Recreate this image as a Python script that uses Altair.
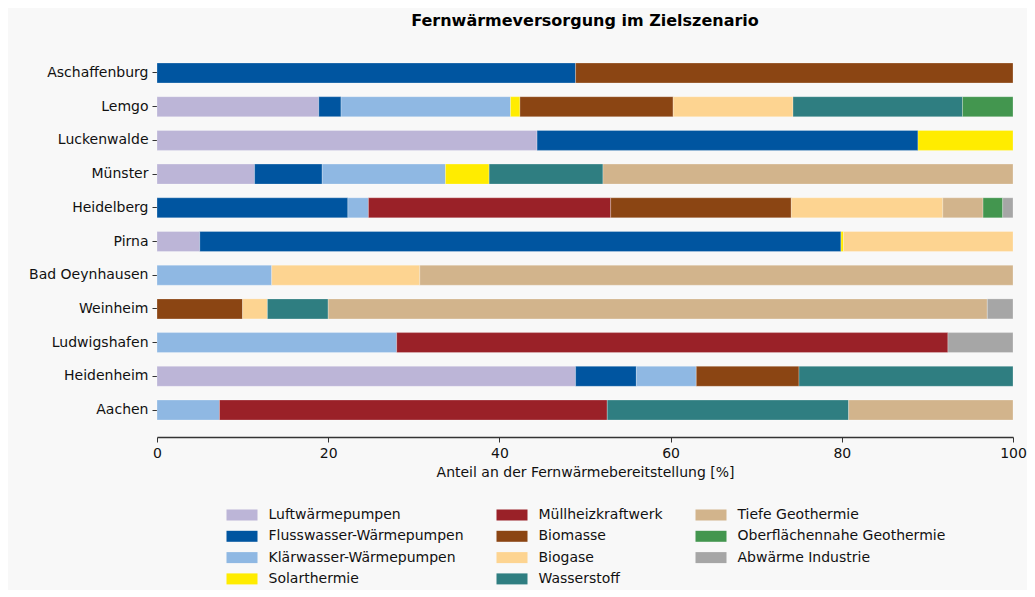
import altair as alt
import pandas as pd

cities = ["Aschaffenburg", "Lemgo", "Luckenwalde", "Münster", "Heidelberg", "Pirna",
          "Bad Oeynhausen", "Weinheim", "Ludwigshafen", "Heidenheim", "Aachen"]

categories = ["Luftwärmepumpen", "Flusswasser-Wärmepumpen", "Klärwasser-Wärmepumpen",
              "Solarthermie", "Müllheizkraftwerk", "Biomasse", "Biogase", "Wasserstoff",
              "Tiefe Geothermie", "Oberflächennahe Geothermie", "Abwärme Industrie"]

colors = ["#bcb5d7", "#0055a0", "#8fb8e3", "#ffec00", "#9a2128", "#8b4513",
          "#fdd491", "#2f7e81", "#d2b48c", "#43964f", "#a6a6a6"]

luft = [0, 18.9, 44.4, 11.4, 0, 5.0, 0, 0, 0, 48.9, 0]
fluss = [48.9, 2.6, 44.5, 7.9, 22.3, 74.9, 0, 0, 0, 7.1, 0]
klaer = [0, 19.8, 0, 14.4, 2.4, 0, 13.4, 0, 28.0, 7.0, 7.3]
solar = [0, 1.1, 11.1, 5.1, 0, 0.3, 0, 0, 0, 0, 0]
muell = [0, 0, 0, 0, 28.3, 0, 0, 0, 64.4, 0, 45.3]
biomasse = [51.1, 17.9, 0, 0, 21.1, 0, 0, 10.0, 0, 12.0, 0]
biogase = [0, 14.0, 0, 0, 17.7, 19.8, 17.3, 2.9, 0, 0, 0]
wasserstoff = [0, 19.8, 0, 13.3, 0, 0, 0, 7.1, 0, 25.0, 28.2]
tiefe = [0, 0, 0, 47.9, 4.7, 0, 69.3, 77.0, 0, 0, 19.2]
oberflaeche = [0, 5.9, 0, 0, 2.3, 0, 0, 0, 0, 0, 0]
abwaerme = [0, 0, 0, 0, 1.2, 0, 0, 3.0, 7.6, 0, 0]

series = [luft, fluss, klaer, solar, muell, biomasse, biogase, wasserstoff,
          tiefe, oberflaeche, abwaerme]

rows = []
for ci, (cat, vals) in enumerate(zip(categories, series)):
    for city, v in zip(cities, vals):
        if v > 0:
            rows.append({"Stadt": city, "Quelle": cat, "Anteil": v, "idx": ci})
df = pd.DataFrame(rows)

FONT = "DejaVu Sans"

chart = alt.Chart(df).mark_bar(stroke="white", strokeWidth=0.5, strokeOpacity=0.5).encode(
    y=alt.Y("Stadt:N", sort=cities, title=None,
            scale=alt.Scale(paddingInner=0.4065, paddingOuter=0.504),
            axis=alt.Axis(domain=False, tickSize=5, tickColor="#333", labelPadding=4,
                          labelFont=FONT, labelFontSize=14, labelColor="#111")),
    x=alt.X("Anteil:Q", stack="zero", title="Anteil an der Fernwärmebereitstellung [%]",
            scale=alt.Scale(domain=[0, 100], nice=False),
            axis=alt.Axis(values=[0, 20, 40, 60, 80, 100], grid=False, tickSize=5,
                          labelFlush=False,
                          domainColor="#333", domainWidth=1.3, tickColor="#333",
                          labelFont=FONT, labelFontSize=14, labelColor="#111", labelPadding=4,
                          titleFont=FONT, titleFontSize=14, titleFontWeight="normal",
                          titleColor="#111", titlePadding=5)),
    color=alt.Color("Quelle:N", scale=alt.Scale(domain=categories, range=colors),
                    legend=alt.Legend(orient="none", legendX=74, legendY=458, columns=3,
                                      columnPadding=32, rowPadding=3.3, title=None, padding=0,
                                      symbolType="M-1.409,-0.5H1.409V0.5H-1.409Z", symbolSize=484,
                                      symbolStrokeWidth=0, symbolOpacity=1, labelOffset=15.5,
                                      labelFont=FONT, labelFontSize=14, labelColor="#111",
                                      labelLimit=400, gridAlign="each")),
    order=alt.Order("idx:Q", sort="ascending"),
    tooltip=["Stadt", "Quelle", "Anteil"],
).properties(
    width=856, height=391,
    title=alt.TitleParams("Fernwärmeversorgung im Zielszenario", font=FONT, fontSize=16,
                          fontWeight="bold", color="black", offset=17),
    background="#f8f8f8",
    padding={"left": 20, "top": 5, "right": 0, "bottom": 4},
).configure_view(stroke=None)

chart.save("out.html", embed_options={"renderer": "svg", "actions": False})
